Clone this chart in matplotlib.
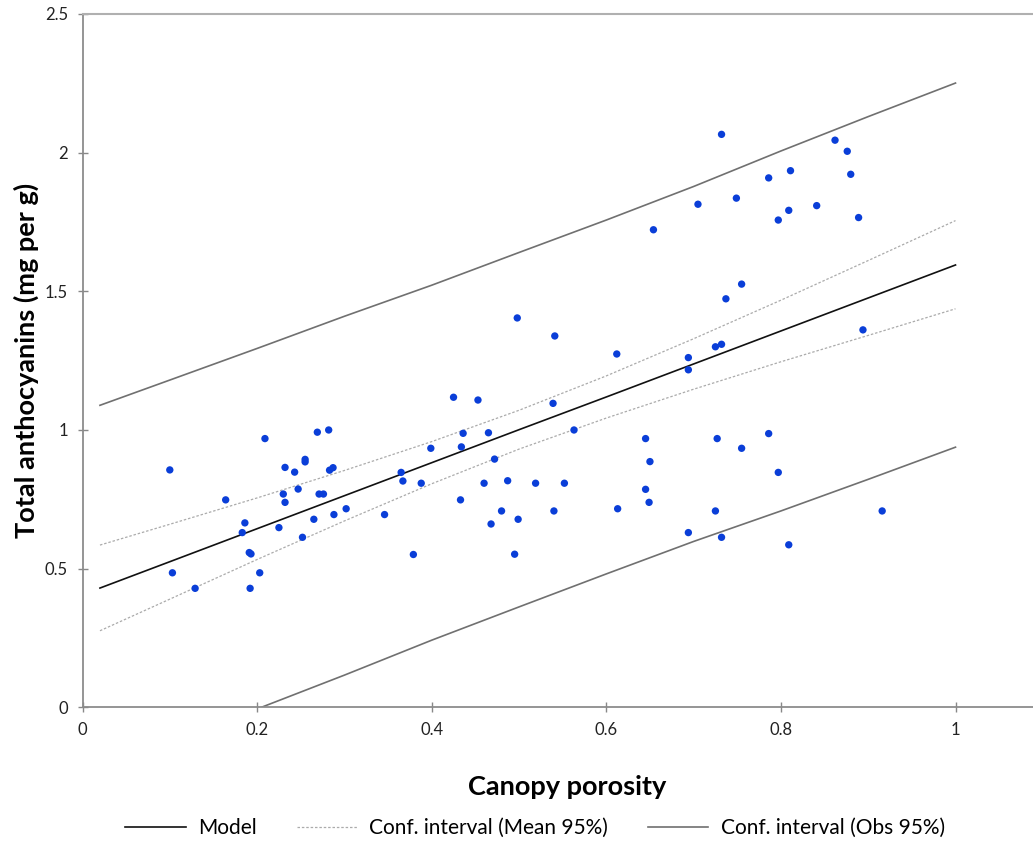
"""Scatter of total anthocyanins vs canopy porosity with a linear model and 95% bands."""
import matplotlib
matplotlib.use("Agg")
import matplotlib.pyplot as plt
from matplotlib.lines import Line2D

plt.rcParams['font.family'] = ['Lato', 'DejaVu Sans']

porosity = [
    0.100, 0.209, 0.269, 0.282, 0.232, 0.243, 0.255, 0.255, 0.164, 0.230,
    0.232, 0.247, 0.271, 0.276, 0.186, 0.183, 0.225, 0.265, 0.252, 0.191,
    0.193, 0.103, 0.203, 0.129, 0.192, 0.288, 0.302, 0.283, 0.287, 0.425,
    0.453, 0.539, 0.436, 0.465, 0.434, 0.399, 0.472, 0.563, 0.365, 0.367,
    0.388, 0.346, 0.460, 0.487, 0.519, 0.552, 0.433, 0.480, 0.468, 0.499,
    0.540, 0.379, 0.495, 0.498, 0.541, 0.612, 0.732, 0.862, 0.876, 0.880,
    0.811, 0.786, 0.705, 0.749, 0.841, 0.809, 0.797, 0.889, 0.654, 0.755,
    0.737, 0.894, 0.725, 0.732, 0.694, 0.694, 0.645, 0.727, 0.786, 0.755,
    0.650, 0.797, 0.645, 0.649, 0.613, 0.725, 0.916, 0.694, 0.732, 0.809,
]
anthocyanins = [
    0.856, 0.969, 0.992, 1.000, 0.865, 0.848, 0.894, 0.885, 0.748, 0.769,
    0.739, 0.787, 0.769, 0.769, 0.665, 0.630, 0.648, 0.678, 0.613, 0.558,
    0.553, 0.485, 0.485, 0.429, 0.429, 0.695, 0.716, 0.855, 0.864, 1.118,
    1.108, 1.096, 0.988, 0.990, 0.939, 0.934, 0.895, 1.000, 0.847, 0.816,
    0.808, 0.695, 0.808, 0.817, 0.808, 0.808, 0.748, 0.708, 0.661, 0.678,
    0.708, 0.551, 0.552, 1.404, 1.339, 1.274, 2.066, 2.045, 2.005, 1.922,
    1.935, 1.909, 1.814, 1.836, 1.809, 1.792, 1.757, 1.766, 1.722, 1.526,
    1.473, 1.361, 1.300, 1.309, 1.261, 1.217, 0.969, 0.969, 0.987, 0.934,
    0.886, 0.847, 0.786, 0.739, 0.716, 0.708, 0.708, 0.630, 0.613, 0.586,
]

# Model and confidence bands, sampled along x
band_x = [0.02, 0.1, 0.2, 0.3, 0.4, 0.5, 0.6, 0.7, 0.8, 0.9, 1.0]
model_y = [0.430, 0.525, 0.644, 0.763, 0.882, 1.001, 1.119, 1.238, 1.357, 1.476, 1.595]
mean_hi = [0.585, 0.660, 0.755, 0.854, 0.958, 1.071, 1.195, 1.329, 1.468, 1.611, 1.755]
mean_lo = [0.276, 0.390, 0.533, 0.672, 0.806, 0.931, 1.043, 1.147, 1.246, 1.341, 1.437]
obs_hi = [1.089, 1.180, 1.294, 1.410, 1.522, 1.640, 1.757, 1.878, 2.006, 2.130, 2.251]
obs_lo = [-0.229, -0.130, -0.006, 0.116, 0.242, 0.362, 0.481, 0.598, 0.708, 0.822, 0.938]

x_ticks = [0, 0.2, 0.4, 0.6, 0.8, 1.0]
x_labels = ['0', '0.2', '0.4', '0.6', '0.8', '1']
y_ticks = [0, 0.5, 1.0, 1.5, 2.0, 2.5]
y_labels = ['0', '0.5', '1', '1.5', '2', '2.5']

fig = plt.figure(figsize=(10.33, 8.41), dpi=100)
ax = fig.add_axes([82.5 / 1033, 133.7 / 841, 1 - 82.5 / 1033, 693.3 / 841])

mean_style = dict(color='#ababab', linewidth=0.9, linestyle=(0, (2.0, 1.5)))
obs_style = dict(color='#707070', linewidth=1.2)
model_style = dict(color='#111111', linewidth=1.2)

ax.plot(band_x, obs_hi, **obs_style)
ax.plot(band_x, obs_lo, **obs_style)
ax.plot(band_x, mean_hi, **mean_style)
ax.plot(band_x, mean_lo, **mean_style)
ax.plot(band_x, model_y, **model_style)
ax.scatter(porosity, anthocyanins, s=28, color='#0a3ed8', edgecolors='none', zorder=5)

ax.set_xlim(0, (1033 - 82.5) / 873)
ax.set_ylim(0, 2.5)
ax.set_xticks(x_ticks)
ax.set_xticklabels(x_labels)
ax.set_yticks(y_ticks)
ax.set_yticklabels(y_labels)
ax.tick_params(direction='inout', length=7, width=1, color='#888888',
               labelsize=12, labelcolor='#222222')
ax.tick_params(axis='y', pad=7)
ax.tick_params(axis='x', pad=7)

ax.spines['right'].set_visible(False)
for side in ['left', 'bottom']:
    ax.spines[side].set_color('#8c8c8c')
    ax.spines[side].set_linewidth(1.3)
ax.spines['top'].set_color('#b0b0b0')
ax.spines['top'].set_linewidth(1.5)

ax.set_xlabel('Canopy porosity', fontsize=19.5, fontweight='bold')
ax.set_ylabel('Total anthocyanins (mg per g)', fontsize=19.5, fontweight='bold')
ax.xaxis.set_label_coords(0.51, -0.097)
ax.yaxis.set_label_coords(-0.046, 0.5)

handles = [
    Line2D([], [], **model_style),
    Line2D([], [], **mean_style),
    Line2D([], [], **obs_style),
]
labels = ['Model', 'Conf. interval (Mean 95%)', 'Conf. interval (Obs 95%)']
fig.legend(handles, labels, loc='center', bbox_to_anchor=(0.518, 0.0155), ncol=3,
           frameon=False, fontsize=15, handlelength=2.9, handletextpad=0.6,
           columnspacing=1.9)

fig.savefig('out.png', dpi=100)
